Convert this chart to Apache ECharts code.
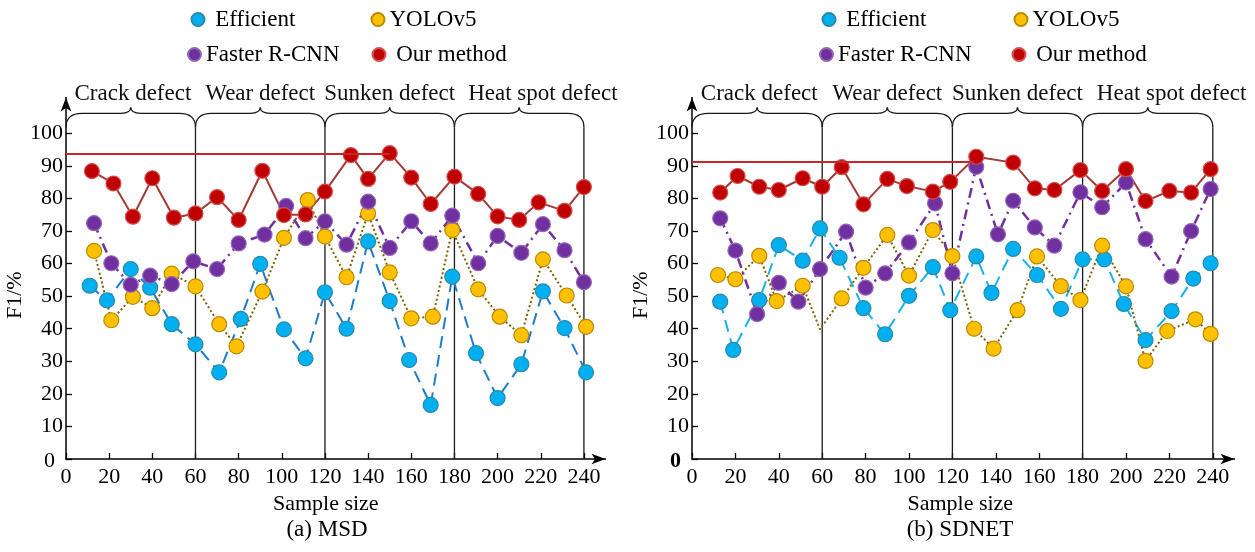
<!DOCTYPE html>
<html>
<head>
<meta charset="utf-8">
<script src="https://cdn.jsdelivr.net/npm/echarts@6/dist/echarts.min.js"></script>
<style>
  body { margin: 0; background: #fff; }
  #main { width: 1255px; height: 552px; }
</style>
</head>
<body>
<div id="main"></div>
<script>
// axis ticks / categories
const xTicks = [0, 20, 40, 60, 80, 100, 120, 140, 160, 180, 200, 220, 240];
const yTicks = [0, 10, 20, 30, 40, 50, 60, 70, 80, 90, 100];
const defectNames = ['Crack defect', 'Wear defect', 'Sunken defect', 'Heat spot defect'];
const defectBounds = [0, 60, 120, 180, 240];
const defectLabelX = [31, 90, 150, 221];
const seriesNames = ['Efficient', 'YOLOv5', 'Faster R-CNN', 'Our method'];

// (a) MSD
const msdEffX = [11, 19, 30, 39, 49, 60, 71, 81, 90, 101, 111, 120, 130, 140, 150, 159, 169, 179, 190, 200, 211, 221, 231, 241];
const msdEffY = [53.2, 48.7, 58.3, 52.6, 41.4, 35.2, 26.6, 43.0, 59.9, 39.8, 30.9, 51.2, 40.0, 66.8, 48.5, 30.4, 16.6, 56.0, 32.5, 18.7, 29.1, 51.5, 40.2, 26.6];
const msdYoloX = [13, 21, 31, 40, 49, 60, 71, 79, 91, 101, 112, 120, 130, 140, 150, 160, 170, 179, 191, 201, 211, 221, 232, 241];
const msdYoloY = [63.9, 42.6, 49.8, 46.3, 56.9, 53.0, 41.4, 34.6, 51.4, 67.9, 79.5, 68.3, 55.8, 75.4, 57.3, 43.2, 43.7, 70.3, 52.1, 43.7, 38.0, 61.3, 50.2, 40.6];
const msdFrcnnX = [13, 21, 30, 39, 49, 59, 70, 80, 92, 102, 111, 120, 130, 140, 150, 160, 169, 179, 191, 200, 211, 221, 231, 240];
const msdFrcnnY = [72.4, 60.1, 53.5, 56.3, 53.7, 60.7, 58.3, 66.2, 68.9, 77.7, 67.8, 73.0, 65.8, 79.0, 64.8, 73.0, 66.2, 74.7, 60.1, 68.5, 63.3, 72.1, 64.1, 54.3];
const msdOursX = [12, 22, 31, 40, 50, 60, 70, 80, 91, 101, 111, 120, 132, 140, 150, 160, 169, 180, 191, 200, 210, 219, 231, 240];
const msdOursY = [88.4, 84.6, 74.4, 86.2, 74.1, 75.4, 80.4, 73.4, 88.5, 74.9, 75.1, 82.1, 93.3, 86.0, 93.9, 86.4, 78.3, 86.7, 81.4, 74.5, 73.4, 78.8, 76.2, 83.5];
const msdBestLine = [150, 93.7];

// (b) SDNET
const sdEffX = [13, 19, 31, 40, 51, 59, 68, 79, 89, 100, 111, 119, 131, 138, 148, 159, 170, 180, 190, 199, 209, 221, 231, 239];
const sdEffY = [48.3, 33.5, 48.8, 65.7, 60.9, 70.8, 61.8, 46.3, 38.3, 50.1, 58.9, 45.7, 62.2, 51.0, 64.5, 56.5, 46.1, 61.3, 61.3, 47.6, 36.5, 45.4, 55.4, 60.1];
const sdYoloX = [12, 20, 31, 39, 51, 59, 69, 79, 90, 100, 111, 120, 130, 139, 150, 159, 170, 179, 189, 200, 209, 219, 232, 239];
const sdYoloY = [56.5, 55.2, 62.4, 48.5, 53.2, 39.8, 49.3, 58.7, 68.8, 56.3, 70.3, 62.3, 40.0, 33.9, 45.7, 62.2, 53.1, 48.8, 65.5, 53.0, 30.1, 39.3, 42.9, 38.4];
const sdYoloNoMarker = 5; // that vertex has no marker in the figure
const sdFrcnnX = [13, 20, 30, 40, 49, 59, 71, 80, 89, 100, 112, 120, 131, 141, 148, 158, 167, 179, 189, 200, 209, 221, 230, 239];
const sdFrcnnY = [73.9, 64.0, 44.5, 54.1, 48.3, 58.3, 69.8, 52.6, 57.0, 66.5, 78.5, 57.0, 89.7, 69.0, 79.3, 71.1, 65.5, 81.9, 77.3, 84.9, 67.5, 56.0, 70.0, 82.9];
const sdOursX = [13, 21, 31, 40, 51, 60, 69, 79, 90, 99, 111, 119, 131, 148, 158, 167, 179, 189, 200, 209, 220, 230, 239];
const sdOursY = [81.8, 86.9, 83.6, 82.6, 86.2, 83.6, 89.6, 78.2, 86.0, 83.8, 82.1, 85.1, 92.8, 91.0, 83.1, 82.6, 88.7, 82.3, 89.0, 79.2, 82.3, 81.8, 89.0];
const sdBestLine = [130, 91.3];

const FONT = '"Liberation Serif", "Times New Roman", serif';

const looks = {
  'Efficient': { fill: '#00b0f0', border: '#2a8aa6', width: 2, type: [12, 7] },
  'YOLOv5': { fill: '#ffc000', border: '#b88a00', line: '#7f6000', width: 2, type: [2, 2.5] },
  'Faster R-CNN': { fill: '#7030a0', border: '#9466b8', line: '#7030a0', width: 2.5, type: [10, 5, 2, 5] },
  'Our method': { fill: '#c00000', border: '#d45050', line: '#a53a35', width: 2, type: 'solid' }
};

function pairs (xs, ys) {
  return xs.map((x, i) => [x, ys[i]]);
}

function lineSeries (name, idx, data, lineColor) {
  const lk = looks[name];
  return {
    name: name,
    type: 'line',
    xAxisIndex: idx,
    yAxisIndex: idx,
    data: data,
    symbol: 'circle',
    symbolSize: 15,
    z: 3,
    itemStyle: { color: lk.fill, borderColor: lk.border, borderWidth: 1.2 },
    lineStyle: { color: lineColor || lk.line, width: lk.width, type: lk.type },
    emphasis: { disabled: true }
  };
}

function bestLine (idx, pt) {
  return {
    type: 'line',
    xAxisIndex: idx,
    yAxisIndex: idx,
    data: [],
    silent: true,
    markLine: {
      symbol: 'none',
      silent: true,
      label: { show: false },
      lineStyle: { color: '#c8262b', width: 2, type: 'solid' },
      data: [[{ coord: [0, pt[1]] }, { coord: [pt[0], pt[1]] }]]
    }
  };
}

// braces, separators and defect names above each group
function braceItem (params, api) {
  const x0 = api.value(0);
  const x1 = api.value(1);
  const lx = api.value(2);
  const pa = api.coord([x0, 0]);
  const pb = api.coord([x1, 0]);
  const top = api.coord([x0, 100])[1];
  const xa = pa[0];
  const xb = pb[0];
  const xm = (xa + xb) / 2;
  const yEnd = top - 6;
  const yFlat = top - 20;
  const yTip = top - 26;
  const d = 'M' + xa + ' ' + yEnd +
    ' Q' + xa + ' ' + yFlat + ' ' + (xa + 16) + ' ' + yFlat +
    ' L' + (xm - 10) + ' ' + yFlat +
    ' Q' + xm + ' ' + yFlat + ' ' + xm + ' ' + yTip +
    ' Q' + xm + ' ' + yFlat + ' ' + (xm + 10) + ' ' + yFlat +
    ' L' + (xb - 16) + ' ' + yFlat +
    ' Q' + xb + ' ' + yFlat + ' ' + xb + ' ' + yEnd;
  return {
    type: 'group',
    children: [
      { type: 'path', shape: { pathData: d }, style: { fill: 'none', stroke: '#1a1a1a', lineWidth: 1.3 } },
      { type: 'line', shape: { x1: xb, y1: pb[1], x2: xb, y2: yEnd }, style: { stroke: '#1a1a1a', lineWidth: 1.3 } },
      {
        type: 'text',
        style: {
          text: defectNames[params.dataIndex],
          x: api.coord([lx, 0])[0],
          y: top - 39,
          align: 'center',
          verticalAlign: 'middle',
          fontSize: 23,
          fontFamily: FONT,
          fill: '#111'
        }
      }
    ]
  };
}

function braceSeries (idx) {
  return {
    type: 'custom',
    xAxisIndex: idx,
    yAxisIndex: idx,
    silent: true,
    clip: false,
    renderItem: braceItem,
    encode: { x: [0, 1] },
    data: defectNames.map((n, i) => [defectBounds[i], defectBounds[i + 1], defectLabelX[i]])
  };
}

function xAxisOf (idx, pad) {
  return {
    type: 'value',
    gridIndex: idx,
    min: 0,
    max: 250,
    name: 'Sample size',
    nameLocation: 'middle',
    nameGap: 31,
    nameTextStyle: { fontSize: 22, fontFamily: FONT, color: '#000', padding: [0, pad, 0, 0] },
    axisLine: { symbol: ['none', 'arrow'], symbolSize: [8, 14], lineStyle: { color: '#000', width: 1.5 } },
    axisTick: { inside: true, length: 6, customValues: xTicks, lineStyle: { color: '#000', width: 1.3 } },
    axisLabel: { customValues: xTicks, fontSize: 22, fontFamily: FONT, color: '#000', margin: 7 },
    splitLine: { show: false }
  };
}

function yAxisOf (idx, boldZero) {
  return {
    type: 'value',
    gridIndex: idx,
    min: 0,
    max: 111,
    name: 'F1/%',
    nameLocation: 'middle',
    nameGap: 36,
    nameTextStyle: { fontSize: 22, fontFamily: FONT, color: '#000', padding: [0, 34, 0, 0] },
    axisLine: { symbol: ['none', 'arrow'], symbolSize: [8, 14], lineStyle: { color: '#000', width: 1.5 } },
    axisTick: { inside: true, length: 6, customValues: yTicks, lineStyle: { color: '#000', width: 1.3 } },
    axisLabel: {
      customValues: yTicks,
      fontSize: 22,
      fontFamily: FONT,
      color: '#000',
      margin: 3,
      formatter: (v) => (v === 0 ? '{z|0}' : String(v)),
      rich: { z: { fontSize: 22, fontFamily: FONT, color: '#000', fontWeight: boldZero ? 'bold' : 'normal', padding: [4, 8, 0, 0] } }
    },
    splitLine: { show: false }
  };
}

function legendAt (name, left, top, label) {
  return {
    data: [name],
    left: left,
    top: top,
    padding: 0,
    icon: 'circle',
    itemWidth: 13,
    itemHeight: 13,
    selectedMode: false,
    formatter: label,
    textStyle: { fontSize: 23, fontFamily: FONT, color: '#000' }
  };
}

const sdYoloData = pairs(sdYoloX, sdYoloY).map((p, i) => (i === sdYoloNoMarker ? { value: p, symbol: 'none' } : p));

const option = {
  animation: false,
  backgroundColor: '#fff',
  grid: [
    { left: 66, top: 97.5, width: 539.5, height: 361.5 },
    { left: 692, top: 97.5, width: 542.5, height: 361.5 }
  ],
  xAxis: [xAxisOf(0, 20), xAxisOf(1, 6)],
  yAxis: [yAxisOf(0, false), yAxisOf(1, true)],
  legend: [
    legendAt('Efficient', 190.5, 8, ' Efficient'),
    legendAt('YOLOv5', 370.5, 8, 'YOLOv5'),
    legendAt('Faster R-CNN', 187, 43, 'Faster R-CNN'),
    legendAt('Our method', 371.5, 43, ' Our method'),
    legendAt('Efficient', 821.5, 8, ' Efficient'),
    legendAt('YOLOv5', 1013.5, 8, 'YOLOv5'),
    legendAt('Faster R-CNN', 819, 43, 'Faster R-CNN'),
    legendAt('Our method', 1011.5, 43, ' Our method')
  ],
  graphic: [
    { type: 'text', x: 327, y: 518, style: { text: '(a) MSD', fontSize: 23, fontFamily: FONT, fill: '#000', align: 'center', verticalAlign: 'top' } },
    { type: 'text', x: 960, y: 518, style: { text: '(b) SDNET', fontSize: 23, fontFamily: FONT, fill: '#000', align: 'center', verticalAlign: 'top' } }
  ],
  series: [
    braceSeries(0),
    braceSeries(1),
    bestLine(0, msdBestLine),
    bestLine(1, sdBestLine),
    lineSeries('Efficient', 0, pairs(msdEffX, msdEffY), '#1f7ccc'),
    lineSeries('YOLOv5', 0, pairs(msdYoloX, msdYoloY)),
    lineSeries('Faster R-CNN', 0, pairs(msdFrcnnX, msdFrcnnY)),
    lineSeries('Our method', 0, pairs(msdOursX, msdOursY)),
    lineSeries('Efficient', 1, pairs(sdEffX, sdEffY), '#18b2ec'),
    lineSeries('YOLOv5', 1, sdYoloData),
    lineSeries('Faster R-CNN', 1, pairs(sdFrcnnX, sdFrcnnY)),
    lineSeries('Our method', 1, pairs(sdOursX, sdOursY))
  ]
};

const chart = echarts.init(document.getElementById('main'));
chart.setOption(option);
</script>
</body>
</html>
